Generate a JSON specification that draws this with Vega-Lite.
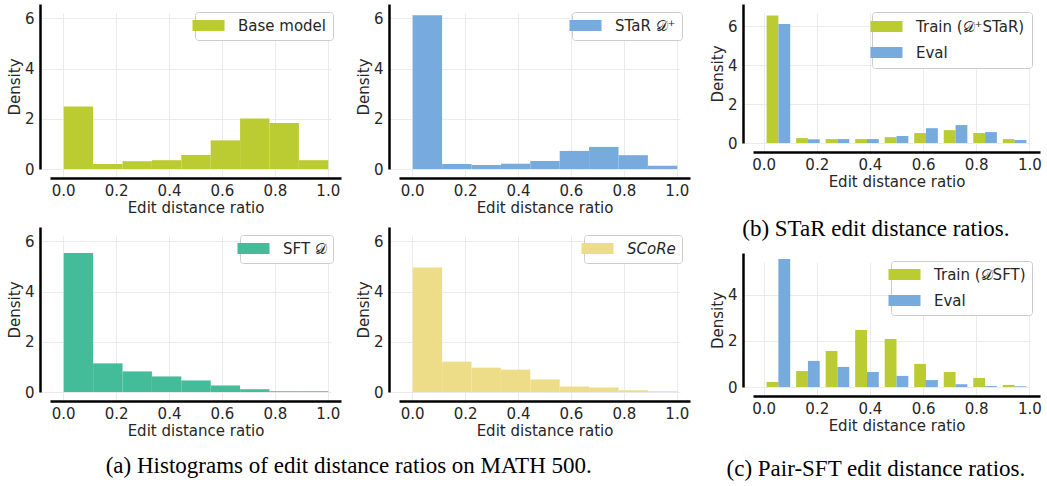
{
  "$schema": "https://vega.github.io/schema/vega-lite/v6.json",
  "padding": {"left": 7, "top": 4, "right": 0, "bottom": 0},
  "background": "white",
  "datasets": {
    "hist": [
      {"model": "Base model", "bin_start": 0.0, "bin_end": 0.1111, "density": 2.49},
      {"model": "Base model", "bin_start": 0.1111, "bin_end": 0.2222, "density": 0.2},
      {"model": "Base model", "bin_start": 0.2222, "bin_end": 0.3333, "density": 0.31},
      {"model": "Base model", "bin_start": 0.3333, "bin_end": 0.4444, "density": 0.35},
      {"model": "Base model", "bin_start": 0.4444, "bin_end": 0.5556, "density": 0.56},
      {"model": "Base model", "bin_start": 0.5556, "bin_end": 0.6667, "density": 1.14},
      {"model": "Base model", "bin_start": 0.6667, "bin_end": 0.7778, "density": 2.01},
      {"model": "Base model", "bin_start": 0.7778, "bin_end": 0.8889, "density": 1.83},
      {"model": "Base model", "bin_start": 0.8889, "bin_end": 1.0, "density": 0.35},
      {"model": "STaR 𝒟⁺", "bin_start": 0.0, "bin_end": 0.1111, "density": 6.12},
      {"model": "STaR 𝒟⁺", "bin_start": 0.1111, "bin_end": 0.2222, "density": 0.2},
      {"model": "STaR 𝒟⁺", "bin_start": 0.2222, "bin_end": 0.3333, "density": 0.16},
      {"model": "STaR 𝒟⁺", "bin_start": 0.3333, "bin_end": 0.4444, "density": 0.21},
      {"model": "STaR 𝒟⁺", "bin_start": 0.4444, "bin_end": 0.5556, "density": 0.32},
      {"model": "STaR 𝒟⁺", "bin_start": 0.5556, "bin_end": 0.6667, "density": 0.72},
      {"model": "STaR 𝒟⁺", "bin_start": 0.6667, "bin_end": 0.7778, "density": 0.88},
      {"model": "STaR 𝒟⁺", "bin_start": 0.7778, "bin_end": 0.8889, "density": 0.55},
      {"model": "STaR 𝒟⁺", "bin_start": 0.8889, "bin_end": 1.0, "density": 0.13},
      {"model": "SFT 𝒟", "bin_start": 0.0, "bin_end": 0.1111, "density": 5.53},
      {"model": "SFT 𝒟", "bin_start": 0.1111, "bin_end": 0.2222, "density": 1.14},
      {"model": "SFT 𝒟", "bin_start": 0.2222, "bin_end": 0.3333, "density": 0.82},
      {"model": "SFT 𝒟", "bin_start": 0.3333, "bin_end": 0.4444, "density": 0.62},
      {"model": "SFT 𝒟", "bin_start": 0.4444, "bin_end": 0.5556, "density": 0.46},
      {"model": "SFT 𝒟", "bin_start": 0.5556, "bin_end": 0.6667, "density": 0.26},
      {"model": "SFT 𝒟", "bin_start": 0.6667, "bin_end": 0.7778, "density": 0.11},
      {"model": "SFT 𝒟", "bin_start": 0.7778, "bin_end": 0.8889, "density": 0.03},
      {"model": "SFT 𝒟", "bin_start": 0.8889, "bin_end": 1.0, "density": 0.03},
      {"model": "SCoRe", "bin_start": 0.0, "bin_end": 0.1111, "density": 4.96},
      {"model": "SCoRe", "bin_start": 0.1111, "bin_end": 0.2222, "density": 1.21},
      {"model": "SCoRe", "bin_start": 0.2222, "bin_end": 0.3333, "density": 0.97},
      {"model": "SCoRe", "bin_start": 0.3333, "bin_end": 0.4444, "density": 0.89},
      {"model": "SCoRe", "bin_start": 0.4444, "bin_end": 0.5556, "density": 0.5},
      {"model": "SCoRe", "bin_start": 0.5556, "bin_end": 0.6667, "density": 0.22},
      {"model": "SCoRe", "bin_start": 0.6667, "bin_end": 0.7778, "density": 0.18},
      {"model": "SCoRe", "bin_start": 0.7778, "bin_end": 0.8889, "density": 0.07},
      {"model": "SCoRe", "bin_start": 0.8889, "bin_end": 1.0, "density": 0.03}
    ],
    "star": [
      {"bin": 0, "bin_start": 0.0, "series": "Train (𝒟⁺STaR)", "density": 6.54},
      {"bin": 1, "bin_start": 0.1111, "series": "Train (𝒟⁺STaR)", "density": 0.25},
      {"bin": 2, "bin_start": 0.2222, "series": "Train (𝒟⁺STaR)", "density": 0.2},
      {"bin": 3, "bin_start": 0.3333, "series": "Train (𝒟⁺STaR)", "density": 0.2},
      {"bin": 4, "bin_start": 0.4444, "series": "Train (𝒟⁺STaR)", "density": 0.3},
      {"bin": 5, "bin_start": 0.5556, "series": "Train (𝒟⁺STaR)", "density": 0.51},
      {"bin": 6, "bin_start": 0.6667, "series": "Train (𝒟⁺STaR)", "density": 0.66},
      {"bin": 7, "bin_start": 0.7778, "series": "Train (𝒟⁺STaR)", "density": 0.51},
      {"bin": 8, "bin_start": 0.8889, "series": "Train (𝒟⁺STaR)", "density": 0.2},
      {"bin": 0, "bin_start": 0.0, "series": "Eval", "density": 6.1},
      {"bin": 1, "bin_start": 0.1111, "series": "Eval", "density": 0.19},
      {"bin": 2, "bin_start": 0.2222, "series": "Eval", "density": 0.2},
      {"bin": 3, "bin_start": 0.3333, "series": "Eval", "density": 0.2},
      {"bin": 4, "bin_start": 0.4444, "series": "Eval", "density": 0.36},
      {"bin": 5, "bin_start": 0.5556, "series": "Eval", "density": 0.76},
      {"bin": 6, "bin_start": 0.6667, "series": "Eval", "density": 0.92},
      {"bin": 7, "bin_start": 0.7778, "series": "Eval", "density": 0.56},
      {"bin": 8, "bin_start": 0.8889, "series": "Eval", "density": 0.15}
    ],
    "pair": [
      {"bin": 0, "bin_start": 0.0, "series": "Train (𝒟SFT)", "density": 0.22},
      {"bin": 1, "bin_start": 0.1111, "series": "Train (𝒟SFT)", "density": 0.69},
      {"bin": 2, "bin_start": 0.2222, "series": "Train (𝒟SFT)", "density": 1.56},
      {"bin": 3, "bin_start": 0.3333, "series": "Train (𝒟SFT)", "density": 2.47},
      {"bin": 4, "bin_start": 0.4444, "series": "Train (𝒟SFT)", "density": 2.08},
      {"bin": 5, "bin_start": 0.5556, "series": "Train (𝒟SFT)", "density": 1.0},
      {"bin": 6, "bin_start": 0.6667, "series": "Train (𝒟SFT)", "density": 0.65},
      {"bin": 7, "bin_start": 0.7778, "series": "Train (𝒟SFT)", "density": 0.39},
      {"bin": 8, "bin_start": 0.8889, "series": "Train (𝒟SFT)", "density": 0.09},
      {"bin": 0, "bin_start": 0.0, "series": "Eval", "density": 5.54},
      {"bin": 1, "bin_start": 0.1111, "series": "Eval", "density": 1.13},
      {"bin": 2, "bin_start": 0.2222, "series": "Eval", "density": 0.87},
      {"bin": 3, "bin_start": 0.3333, "series": "Eval", "density": 0.65},
      {"bin": 4, "bin_start": 0.4444, "series": "Eval", "density": 0.48},
      {"bin": 5, "bin_start": 0.5556, "series": "Eval", "density": 0.3},
      {"bin": 6, "bin_start": 0.6667, "series": "Eval", "density": 0.12},
      {"bin": 7, "bin_start": 0.7778, "series": "Eval", "density": 0.04},
      {"bin": 8, "bin_start": 0.8889, "series": "Eval", "density": 0.03}
    ]
  },
  "hconcat": [
    {
      "vconcat": [
        {
          "hconcat": [
            {
              "width": 291, "height": 165,
              "data": {"name": "hist"},
              "transform": [{"filter": "datum.model === 'Base model'"}],
              "mark": {"type": "bar", "binSpacing": 0},
              "encoding": {
                "x": {"field": "bin_start", "type": "quantitative", "bin": "binned", "scale": {"domain": [-0.05, 1.05], "nice": false, "zero": false}, "axis": {"title": "Edit distance ratio", "values": [0, 0.2, 0.4, 0.6, 0.8, 1.0], "format": ".1f"}},
                "x2": {"field": "bin_end"},
                "y": {"field": "density", "type": "quantitative", "scale": {"domain": [0, 6.57], "nice": false}, "axis": {"title": "Density", "values": [0, 2, 4, 6]}},
                "color": {"field": "model", "type": "nominal", "scale": {"domain": ["Base model"], "range": ["#BBCC33"]}, "legend": {"title": null}}
              }
            },
            {
              "width": 291, "height": 165,
              "data": {"name": "hist"},
              "transform": [{"filter": "datum.model === 'STaR 𝒟⁺'"}],
              "mark": {"type": "bar", "binSpacing": 0},
              "encoding": {
                "x": {"field": "bin_start", "type": "quantitative", "bin": "binned", "scale": {"domain": [-0.05, 1.05], "nice": false, "zero": false}, "axis": {"title": "Edit distance ratio", "values": [0, 0.2, 0.4, 0.6, 0.8, 1.0], "format": ".1f"}},
                "x2": {"field": "bin_end"},
                "y": {"field": "density", "type": "quantitative", "scale": {"domain": [0, 6.57], "nice": false}, "axis": {"title": "Density", "values": [0, 2, 4, 6]}},
                "color": {"field": "model", "type": "nominal", "scale": {"domain": ["STaR 𝒟⁺"], "range": ["#77AADD"]}, "legend": {"title": null}}
              }
            }
          ],
          "spacing": 15,
          "resolve": {"scale": {"x": "independent", "y": "independent", "color": "independent"}, "legend": {"color": "independent"}}
        },
        {
          "hconcat": [
            {
              "width": 291, "height": 165,
              "data": {"name": "hist"},
              "transform": [{"filter": "datum.model === 'SFT 𝒟'"}],
              "mark": {"type": "bar", "binSpacing": 0},
              "encoding": {
                "x": {"field": "bin_start", "type": "quantitative", "bin": "binned", "scale": {"domain": [-0.05, 1.05], "nice": false, "zero": false}, "axis": {"title": "Edit distance ratio", "values": [0, 0.2, 0.4, 0.6, 0.8, 1.0], "format": ".1f"}},
                "x2": {"field": "bin_end"},
                "y": {"field": "density", "type": "quantitative", "scale": {"domain": [0, 6.57], "nice": false}, "axis": {"title": "Density", "values": [0, 2, 4, 6]}},
                "color": {"field": "model", "type": "nominal", "scale": {"domain": ["SFT 𝒟"], "range": ["#44BB99"]}, "legend": {"title": null}}
              }
            },
            {
              "width": 291, "height": 165,
              "data": {"name": "hist"},
              "transform": [{"filter": "datum.model === 'SCoRe'"}],
              "mark": {"type": "bar", "binSpacing": 0},
              "encoding": {
                "x": {"field": "bin_start", "type": "quantitative", "bin": "binned", "scale": {"domain": [-0.05, 1.05], "nice": false, "zero": false}, "axis": {"title": "Edit distance ratio", "values": [0, 0.2, 0.4, 0.6, 0.8, 1.0], "format": ".1f"}},
                "x2": {"field": "bin_end"},
                "y": {"field": "density", "type": "quantitative", "scale": {"domain": [0, 6.57], "nice": false}, "axis": {"title": "Density", "values": [0, 2, 4, 6]}},
                "color": {"field": "model", "type": "nominal", "scale": {"domain": ["SCoRe"], "range": ["#EEDD88"]}, "legend": {"title": null, "labelFontStyle": "italic"}}
              }
            }
          ],
          "spacing": 15,
          "resolve": {"scale": {"x": "independent", "y": "independent", "color": "independent"}, "legend": {"color": "independent"}}
        }
      ],
      "spacing": 12,
      "title": {"text": "(a) Histograms of edit distance ratios on MATH 500.", "orient": "bottom", "anchor": "middle", "frame": "bounds", "offset": 17, "font": "Liberation Serif", "fontSize": 23, "fontWeight": "normal", "color": "black"},
      "resolve": {"scale": {"x": "independent", "y": "independent", "color": "independent"}, "legend": {"color": "independent"}}
    },
    {
      "vconcat": [
        {
          "width": 287, "height": 139,
          "data": {"name": "star"},
          "title": {"text": "(b) STaR edit distance ratios.", "orient": "bottom", "anchor": "middle", "frame": "bounds", "offset": 29, "font": "Liberation Serif", "fontSize": 23, "fontWeight": "normal", "color": "black"},
          "layer": [
            {
              "mark": {"type": "rule", "opacity": 0},
              "encoding": {
                "x": {"field": "bin_start", "type": "quantitative", "scale": {"domain": [-0.04, 1.04], "nice": false, "zero": false}, "axis": {"title": "Edit distance ratio", "values": [0, 0.2, 0.4, 0.6, 0.8, 1.0], "format": ".1f", "orient": "bottom"}}
              }
            },
            {
              "mark": {"type": "bar"},
              "encoding": {
                "x": {"field": "bin", "type": "ordinal", "scale": {"type": "band", "paddingInner": 0.2, "paddingOuter": 0.46}, "axis": null},
                "xOffset": {"field": "series", "type": "nominal", "scale": {"domain": ["Train (𝒟⁺STaR)", "Eval"], "paddingInner": 0, "paddingOuter": 0}},
                "y": {"field": "density", "type": "quantitative", "scale": {"domain": [0, 7.13], "nice": false}, "axis": {"title": "Density", "values": [0, 2, 4, 6]}},
                "color": {"field": "series", "type": "nominal", "scale": {"domain": ["Train (𝒟⁺STaR)", "Eval"], "range": ["#BBCC33", "#77AADD"]}, "legend": {"title": null, "padding": 7}}
              }
            }
          ],
          "resolve": {"scale": {"x": "independent"}}
        },
        {
          "width": 287, "height": 134,
          "data": {"name": "pair"},
          "title": {"text": "(c) Pair-SFT edit distance ratios.", "orient": "bottom", "anchor": "middle", "frame": "bounds", "offset": 25, "font": "Liberation Serif", "fontSize": 23, "fontWeight": "normal", "color": "black"},
          "layer": [
            {
              "mark": {"type": "rule", "opacity": 0},
              "encoding": {
                "x": {"field": "bin_start", "type": "quantitative", "scale": {"domain": [-0.04, 1.04], "nice": false, "zero": false}, "axis": {"title": "Edit distance ratio", "values": [0, 0.2, 0.4, 0.6, 0.8, 1.0], "format": ".1f", "orient": "bottom"}}
              }
            },
            {
              "mark": {"type": "bar"},
              "encoding": {
                "x": {"field": "bin", "type": "ordinal", "scale": {"type": "band", "paddingInner": 0.2, "paddingOuter": 0.46}, "axis": null},
                "xOffset": {"field": "series", "type": "nominal", "scale": {"domain": ["Train (𝒟SFT)", "Eval"], "paddingInner": 0, "paddingOuter": 0}},
                "y": {"field": "density", "type": "quantitative", "scale": {"domain": [0, 5.8], "nice": false}, "axis": {"title": "Density", "values": [0, 2, 4]}},
                "color": {"field": "series", "type": "nominal", "scale": {"domain": ["Train (𝒟SFT)", "Eval"], "range": ["#BBCC33", "#77AADD"]}, "legend": {"title": null, "padding": 6}}
              }
            }
          ],
          "resolve": {"scale": {"x": "independent"}}
        }
      ],
      "spacing": 12,
      "resolve": {"scale": {"x": "independent", "y": "independent", "color": "independent", "xOffset": "independent"}, "legend": {"color": "independent"}}
    }
  ],
  "spacing": 20,
  "resolve": {"scale": {"x": "independent", "y": "independent", "color": "independent", "xOffset": "independent"}, "legend": {"color": "independent"}},
  "config": {
    "view": {"stroke": null},
    "axis": {
      "domainColor": "#000000", "domainWidth": 2.5, "ticks": false, "tickSize": 0,
      "labelFont": "DejaVu Sans", "labelFontSize": 15, "labelColor": "#262626",
      "titleFont": "DejaVu Sans", "titleFontSize": 15, "titleFontWeight": "normal", "titleColor": "#262626",
      "grid": true, "gridColor": "#ebebeb", "gridWidth": 1,
      "labelFlush": false, "labelOverlap": false
    },
    "axisX": {"offset": 9, "labelPadding": 5, "titlePadding": 2},
    "axisY": {"offset": 10, "labelPadding": 6, "titlePadding": 2},
    "legend": {
      "orient": "top-right", "offset": 8, "fillColor": "white", "strokeColor": "#cccccc", "cornerRadius": 3, "padding": 6,
      "labelFont": "DejaVu Sans", "labelFontSize": 15, "labelColor": "#262626",
      "symbolType": "M-2.909,-1H2.909V1H-2.909Z", "symbolSize": 121, "symbolStrokeWidth": 0, "symbolOpacity": 1,
      "rowPadding": 10, "labelOffset": 22
    }
  }
}
